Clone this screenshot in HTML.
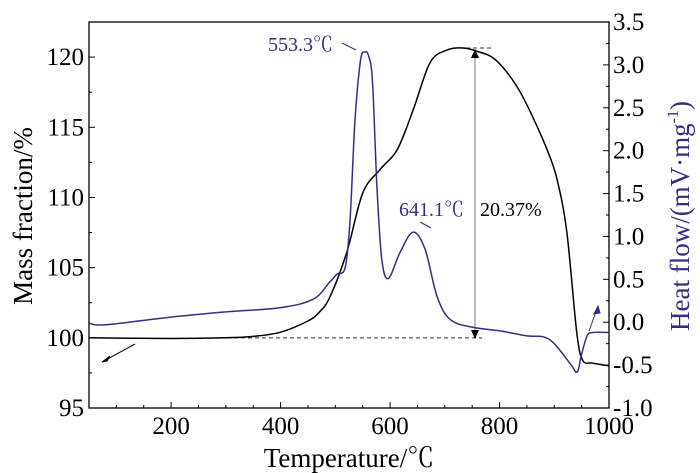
<!DOCTYPE html>
<html><head><meta charset="utf-8"><style>
body{margin:0;background:#fff}
svg{display:block;font-family:"Liberation Serif","Noto Serif CJK SC",serif}
</style></head><body>
<svg id="c" width="700" height="473"></svg>
<script>
const tgTemps=[50,200,300,350,400,450,470,490,521,550,582,613,642,673,704,733,760,793,832,861,887,905,923,941,952,970,1000];
const tgMass=[100,99.95,100,100.1,100.4,101.2,101.8,102.9,106.1,110.3,112,113.4,116.2,119.6,120.5,120.65,120.4,119.8,117.9,115.7,113.4,111.3,107.5,100.4,98.4,98.2,98];
const dscTemps=[50,80,200,300,400,460,490,503,518,527,536,546,554,561,568,576,585,597,618,642,664,686,710,752,800,850,880,900,930,942,950,960,970,1000];
const dscFlow=[-0.01,-0.03,0.06,0.12,0.17,0.27,0.47,0.56,0.64,1.2,2.36,3.05,3.15,3.1,2.8,1.58,0.73,0.51,0.81,1.05,0.85,0.3,0.03,-0.06,-0.1,-0.16,-0.17,-0.25,-0.49,-0.58,-0.37,-0.16,-0.12,-0.12];
const xTicks=[200,400,600,800,1000];
const yLeftTicks=[95,100,105,110,115,120];
const yRightTicks=[-1.0,-0.5,0.0,0.5,1.0,1.5,2.0,2.5,3.0,3.5];
const L=89,R=609,T=22,B=408;
const x=t=>L+(t-50)/950*(R-L);
const yl=v=>B-(v-95)/27.5*(B-T);
const yr=v=>B-(v+1)/4.5*(B-T);
const svg=document.getElementById('c');
const NS='http://www.w3.org/2000/svg';
function mk(tag,attrs,txt){const e=document.createElementNS(NS,tag);for(const k in attrs)e.setAttribute(k,attrs[k]);if(txt!==undefined)e.textContent=txt;svg.appendChild(e);return e;}
function smooth(pts){let d='M'+pts[0][0].toFixed(1)+','+pts[0][1].toFixed(1);
for(let i=0;i<pts.length-1;i++){const p0=pts[Math.max(0,i-1)],p1=pts[i],p2=pts[i+1],p3=pts[Math.min(pts.length-1,i+2)];
const c1x=p1[0]+(p2[0]-p0[0])/6,c1y=p1[1]+(p2[1]-p0[1])/6,c2x=p2[0]-(p3[0]-p1[0])/6,c2y=p2[1]-(p3[1]-p1[1])/6;
d+='C'+c1x.toFixed(1)+','+c1y.toFixed(1)+' '+c2x.toFixed(1)+','+c2y.toFixed(1)+' '+p2[0].toFixed(1)+','+p2[1].toFixed(1);}
return d;}
let e;
e=mk('rect',{x:L,y:T,width:R-L,height:B-T,fill:'none',stroke:'#000','stroke-width':1.3});


for(let t=100;t<=1000;t+=50){const major=t%200===0;e=mk('line',{x1:x(t),x2:x(t),y1:B,y2:B-(major?6:3),stroke:'#000'});

}
xTicks.forEach(t=>{e=mk('text',{x:x(t),y:B+26,'text-anchor':'middle','font-size':25},String(t));

});
yLeftTicks.forEach(v=>{e=mk('line',{x1:L,x2:L+6,y1:yl(v),y2:yl(v),stroke:'#000'});


e=mk('line',{x1:L,x2:L+3,y1:yl(v+2.5),y2:yl(v+2.5),stroke:'#000'});


e=mk('text',{x:L-5,y:yl(v)+8,'text-anchor':'end','font-size':25},String(v));

});
yRightTicks.forEach(v=>{e=mk('line',{x1:R,x2:R-6,y1:yr(v),y2:yr(v),stroke:'#000'});


if(v<3.5){e=mk('line',{x1:R,x2:R-3,y1:yr(v+0.25),y2:yr(v+0.25),stroke:'#000'});

}
e=mk('text',{x:R+4,y:yr(v)+8,'font-size':25},v.toFixed(1));

});
e=mk('text',{x:349,y:467,'text-anchor':'middle','font-size':27},'Temperature/℃');


e=mk('text',{x:0,y:0,'text-anchor':'middle','font-size':27,transform:'translate(32,216) rotate(-90)'},'Mass fraction/%');


e=mk('text',{x:0,y:0,'text-anchor':'middle','font-size':27,fill:'#3a2a86',transform:'translate(689,216) rotate(-90)'});


e.innerHTML='Heat flow/(mV·mg<tspan dy="-11" font-size="16">-1</tspan><tspan dy="11">)</tspan>';
e=mk('line',{x1:220,x2:482,y1:yl(100),y2:yl(100),stroke:'#333','stroke-dasharray':'4,3'});


e=mk('line',{x1:452,x2:494,y1:48,y2:48,stroke:'#333','stroke-dasharray':'4,3'});


e=mk('line',{x1:475,x2:475,y1:52,y2:335,stroke:'#777','stroke-width':1});


e=mk('path',{d:'M471,58 L475,49 L479,58 Z M471,330 L475,339 L479,330 Z',fill:'#000'});


e=mk('path',{d:smooth(tgTemps.map((t,i)=>[x(t),yl(tgMass[i])])),fill:'none',stroke:'#000','stroke-width':1.5,'stroke-linejoin':'round'});


e=mk('path',{d:smooth(dscTemps.map((t,i)=>[x(t),yr(dscFlow[i])])),fill:'none',stroke:'#3a2a86','stroke-width':1.5,'stroke-linejoin':'round'});


e=mk('text',{x:268,y:51,'font-size':20,fill:'#3a2a86'},'553.3℃');


e=mk('line',{x1:342,x2:356,y1:43,y2:50,stroke:'#3a2a86'});


e=mk('text',{x:399,y:216,'font-size':20,fill:'#3a2a86'},'641.1℃');


e=mk('line',{x1:420,x2:431,y1:222,y2:228,stroke:'#3a2a86'});


e=mk('text',{x:480,y:216,'font-size':20},'20.37%');


e=mk('line',{x1:135,x2:104,y1:344,y2:361,stroke:'#000'});


e=mk('path',{d:'M102,362 L110,356 L107,361 Z',fill:'#000',stroke:'#000'});


e=mk('line',{x1:589,x2:597,y1:331,y2:309,stroke:'#3a2a86'});


e=mk('path',{d:'M598,306 L594,314 L600,313 Z',fill:'#3a2a86',stroke:'#3a2a86'});


</script>
</body></html>
